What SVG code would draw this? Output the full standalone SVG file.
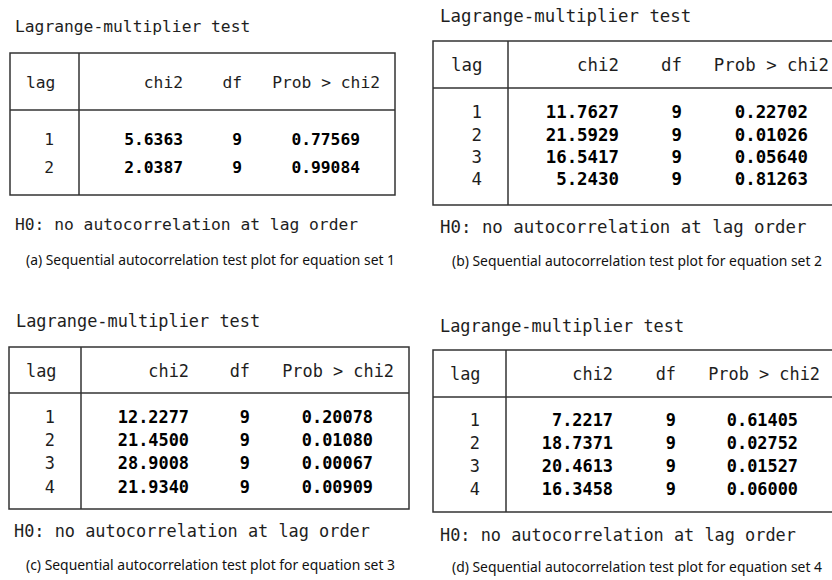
<svg xmlns="http://www.w3.org/2000/svg" width="832" height="580" viewBox="0 0 832 580">
<style>
.m{font-family:"DejaVu Sans Mono","Liberation Mono",monospace;fill:#1e1e1e}
.b{font-weight:bold;fill:#000}
.e{text-anchor:end}
.cap{font-family:"Noto Sans","Liberation Sans",sans-serif;font-size:14px;fill:#111}
.ln{stroke:#333;stroke-width:1.5;fill:none}
.pa{font-size:16.3px}
.pb{font-size:17.4px}
.pc{font-size:16.9px}
.pd{font-size:16.9px}
</style>
<rect width="832" height="580" fill="#fff"/>
<g id="panel-a" class="m pa">
<text x="15" y="32">Lagrange-multiplier test</text>
<rect class="ln" x="10" y="53" width="385" height="142"/>
<line class="ln" x1="79" y1="53" x2="79" y2="195"/>
<line class="ln" x1="10" y1="110" x2="395" y2="110"/>
<text x="26" y="88">lag</text>
<text class="e" x="183" y="88">chi2</text>
<text class="e" x="242" y="88">df</text>
<text class="e" x="380" y="88">Prob &gt; chi2</text>
<text class="e" x="54" y="145">1</text>
<text class="e" x="54" y="173">2</text>
<g class="b">
<text class="e" x="183" y="145">5.6363</text>
<text class="e" x="242" y="145">9</text>
<text class="e" x="360" y="145">0.77569</text>
<text class="e" x="183" y="173">2.0387</text>
<text class="e" x="242" y="173">9</text>
<text class="e" x="360" y="173">0.99084</text>
</g>
<text x="15" y="230">H0: no autocorrelation at lag order</text>
<text class="cap" x="26" y="265" textLength="369" lengthAdjust="spacingAndGlyphs">(a) Sequential autocorrelation test plot for equation set 1</text>
</g>
<g id="panel-b" class="m pb">
<text x="440" y="22">Lagrange-multiplier test</text>
<polyline class="ln" points="832,41 433,41 433,205 832,205"/>
<line class="ln" x1="508" y1="41" x2="508" y2="205"/>
<line class="ln" x1="433" y1="88" x2="832" y2="88"/>
<text x="451" y="71">lag</text>
<text class="e" x="619" y="71">chi2</text>
<text class="e" x="682" y="71">df</text>
<text class="e" x="829" y="71">Prob &gt; chi2</text>
<text class="e" x="482" y="118">1</text>
<text class="e" x="482" y="140.5">2</text>
<text class="e" x="482" y="162.5">3</text>
<text class="e" x="482" y="185">4</text>
<g class="b">
<text class="e" x="619" y="118">11.7627</text>
<text class="e" x="682" y="118">9</text>
<text class="e" x="808" y="118">0.22702</text>
<text class="e" x="619" y="140.5">21.5929</text>
<text class="e" x="682" y="140.5">9</text>
<text class="e" x="808" y="140.5">0.01026</text>
<text class="e" x="619" y="162.5">16.5417</text>
<text class="e" x="682" y="162.5">9</text>
<text class="e" x="808" y="162.5">0.05640</text>
<text class="e" x="619" y="185">5.2430</text>
<text class="e" x="682" y="185">9</text>
<text class="e" x="808" y="185">0.81263</text>
</g>
<text x="440" y="233">H0: no autocorrelation at lag order</text>
<text class="cap" x="452" y="266" textLength="370" lengthAdjust="spacingAndGlyphs">(b) Sequential autocorrelation test plot for equation set 2</text>
</g>
<g id="panel-c" class="m pc">
<text x="16" y="327">Lagrange-multiplier test</text>
<rect class="ln" x="9" y="347" width="400" height="162"/>
<line class="ln" x1="81" y1="347" x2="81" y2="509"/>
<line class="ln" x1="9" y1="393" x2="409" y2="393"/>
<text x="26" y="377">lag</text>
<text class="e" x="189" y="377">chi2</text>
<text class="e" x="250" y="377">df</text>
<text class="e" x="394" y="377">Prob &gt; chi2</text>
<text class="e" x="55" y="423">1</text>
<text class="e" x="55" y="446">2</text>
<text class="e" x="55" y="469">3</text>
<text class="e" x="55" y="493">4</text>
<g class="b">
<text class="e" x="189" y="423">12.2277</text>
<text class="e" x="250" y="423">9</text>
<text class="e" x="373" y="423">0.20078</text>
<text class="e" x="189" y="446">21.4500</text>
<text class="e" x="250" y="446">9</text>
<text class="e" x="373" y="446">0.01080</text>
<text class="e" x="189" y="469">28.9008</text>
<text class="e" x="250" y="469">9</text>
<text class="e" x="373" y="469">0.00067</text>
<text class="e" x="189" y="493">21.9340</text>
<text class="e" x="250" y="493">9</text>
<text class="e" x="373" y="493">0.00909</text>
</g>
<text x="14" y="537">H0: no autocorrelation at lag order</text>
<text class="cap" x="26" y="570" textLength="369" lengthAdjust="spacingAndGlyphs">(c) Sequential autocorrelation test plot for equation set 3</text>
</g>
<g id="panel-d" class="m pd">
<text x="440" y="332">Lagrange-multiplier test</text>
<polyline class="ln" points="832,350 433,350 433,512 832,512"/>
<line class="ln" x1="506" y1="350" x2="506" y2="512"/>
<line class="ln" x1="433" y1="397" x2="832" y2="397"/>
<text x="450" y="380">lag</text>
<text class="e" x="613" y="380">chi2</text>
<text class="e" x="676" y="380">df</text>
<text class="e" x="820" y="380">Prob &gt; chi2</text>
<text class="e" x="480" y="426">1</text>
<text class="e" x="480" y="449">2</text>
<text class="e" x="480" y="472">3</text>
<text class="e" x="480" y="495">4</text>
<g class="b">
<text class="e" x="613" y="426">7.2217</text>
<text class="e" x="676" y="426">9</text>
<text class="e" x="798" y="426">0.61405</text>
<text class="e" x="613" y="449">18.7371</text>
<text class="e" x="676" y="449">9</text>
<text class="e" x="798" y="449">0.02752</text>
<text class="e" x="613" y="472">20.4613</text>
<text class="e" x="676" y="472">9</text>
<text class="e" x="798" y="472">0.01527</text>
<text class="e" x="613" y="495">16.3458</text>
<text class="e" x="676" y="495">9</text>
<text class="e" x="798" y="495">0.06000</text>
</g>
<text x="440" y="541">H0: no autocorrelation at lag order</text>
<text class="cap" x="452" y="572" textLength="370" lengthAdjust="spacingAndGlyphs">(d) Sequential autocorrelation test plot for equation set 4</text>
</g>
</svg>
